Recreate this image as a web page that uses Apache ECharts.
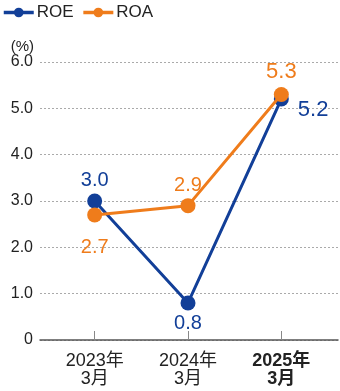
<!DOCTYPE html>
<html><head><meta charset="utf-8">
<script src="https://cdn.jsdelivr.net/npm/echarts@6/dist/echarts.min.js"></script>
<style>html,body{margin:0;padding:0;background:#fff}#c{width:340px;height:391px}</style>
</head><body><div id="c"></div>
<script>
const categories = ['2023年\n3月', '2024年\n3月', '2025年\n3月'];
const roe = [3.0, 0.8, 5.2];
const roa = [2.7, 2.9, 5.3];
const roeLabelPos = ['top', 'bottom', 'right'];
const roaLabelPos = ['bottom', 'top', 'top'];
const yTicks = [0, 1, 2, 3, 4, 5, 6];

const BLUE = '#123f98';
const ORANGE = '#ef7c1b';
const FONT = '"Liberation Sans", Arial, "Noto Sans CJK JP", sans-serif';

const roeOffsets = [[0, 2], [0, -2], [0, 11]];
const roaOffsets = [[0, 10], [0, 2], [0, 1]];

function makeData(vals, pos, offs, color) {
  return vals.map((v, i) => ({
    value: v,
    label: {
      position: pos[i],
      offset: offs[i],
      fontSize: i === 2 ? 22 : 20,
      distance: pos[i] === 'right' ? 9 : 5,
      color: color
    }
  }));
}

const chart = echarts.init(document.getElementById('c'), null, {renderer: 'canvas'});
chart.setOption({
  animation: false,
  textStyle: {fontFamily: FONT},
  legend: {
    left: 2, top: 4, padding: 0,
    itemWidth: 30, itemHeight: 12, itemGap: 8,
    lineStyle: {width: 3.5},
    textStyle: {fontSize: 17, color: '#222', fontFamily: FONT, padding: [0, 0, 0, -2]},
    data: ['ROE', 'ROA']
  },
  grid: [
    {left: 40, right: 2, top: 62, bottom: 51},
    {left: 48, right: 12, top: 62, bottom: 51}
  ],
  xAxis: [
    {gridIndex: 0, type: 'value', min: 0, max: 1,
      axisLine: {show: true, lineStyle: {color: '#555', width: 1.5}},
      axisTick: {show: false}, axisLabel: {show: false}, splitLine: {show: false}},
    {gridIndex: 1, type: 'category', data: categories, boundaryGap: true,
      axisLine: {show: false},
      axisTick: {show: true, inside: true, length: 9, alignWithLabel: true, lineStyle: {color: '#888', width: 1}},
      axisLabel: {
        interval: 0, margin: 12, fontSize: 18, lineHeight: 18, color: '#222', fontFamily: FONT,
        formatter: function (v, i) { return i === categories.length - 1 ? '{b|' + v.replace('\n', '}\n{b|') + '}' : v; },
        rich: {b: {fontWeight: 'bold', fontSize: 18, lineHeight: 18, color: '#222', fontFamily: FONT}}
      }}
  ],
  yAxis: [
    {gridIndex: 0, type: 'value', min: yTicks[0], max: yTicks[yTicks.length - 1], interval: 1,
      name: '(%)', nameLocation: 'end', nameGap: 8,
      nameTextStyle: {fontSize: 15, color: '#222', align: 'right', padding: [0, 6, 0, 0], fontFamily: FONT},
      axisLine: {show: false}, axisTick: {show: false},
      axisLabel: {fontSize: 16, color: '#222', margin: 7, fontFamily: FONT,
        formatter: v => v === 0 ? '0' : v.toFixed(1)},
      splitLine: {show: true, lineStyle: {color: '#aaa', type: [2, 2], width: 1}}},
    {gridIndex: 1, type: 'value', min: yTicks[0], max: yTicks[yTicks.length - 1], show: false,
      splitLine: {show: false}}
  ],
  series: [
    {name: 'ROE', type: 'line', xAxisIndex: 1, yAxisIndex: 1,
      data: makeData(roe, roeLabelPos, roeOffsets, BLUE),
      symbol: 'circle', symbolSize: 15,
      itemStyle: {color: BLUE}, lineStyle: {color: BLUE, width: 3},
      label: {show: true, formatter: p => p.value.toFixed(1), fontFamily: FONT},
      z: 2},
    {name: 'ROA', type: 'line', xAxisIndex: 1, yAxisIndex: 1,
      data: makeData(roa, roaLabelPos, roaOffsets, ORANGE),
      symbol: 'circle', symbolSize: 15,
      itemStyle: {color: ORANGE}, lineStyle: {color: ORANGE, width: 3},
      label: {show: true, formatter: p => p.value.toFixed(1), fontFamily: FONT},
      z: 3}
  ]
});
</script></body></html>
